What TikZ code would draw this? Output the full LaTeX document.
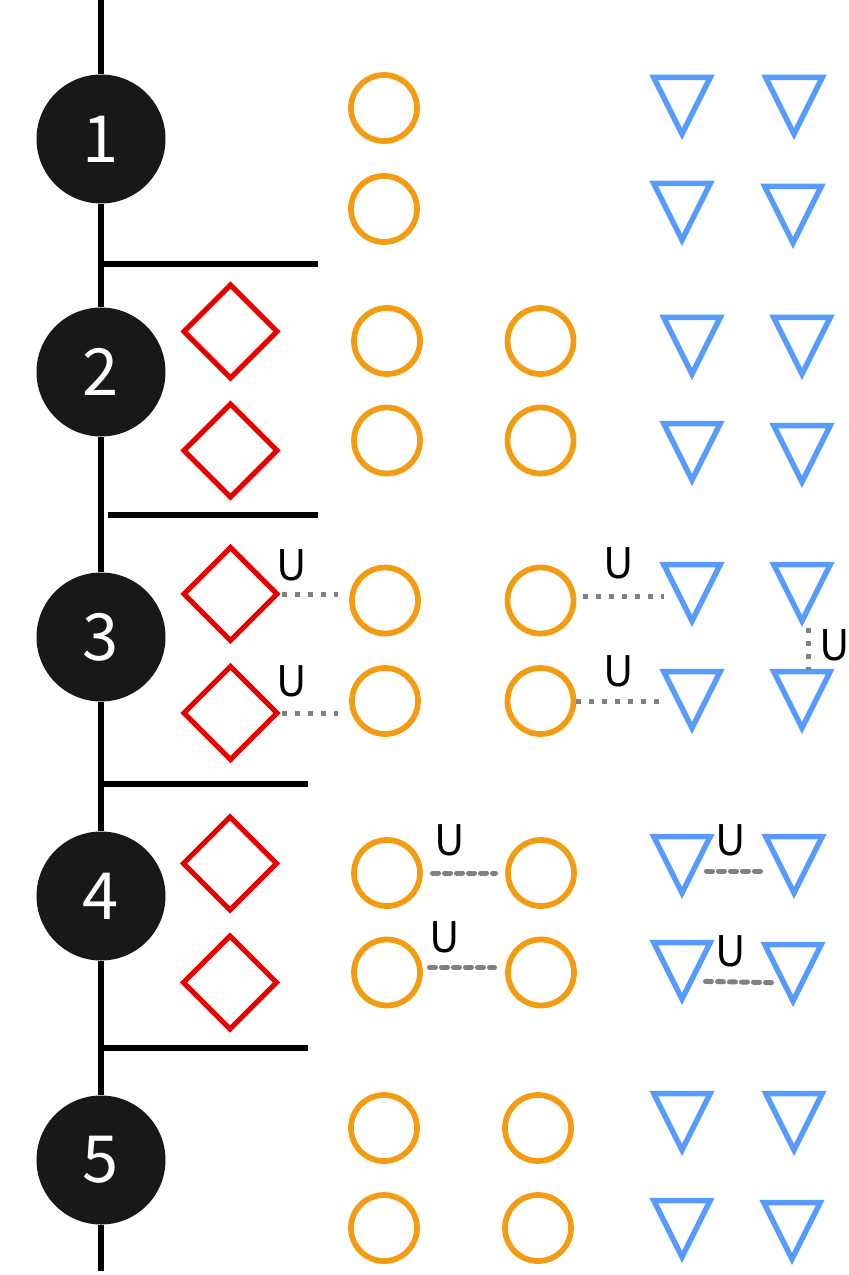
\documentclass[tikz,border=0pt]{standalone}
\usepackage{fontspec}
\usetikzlibrary{shapes.geometric}
\newfontfamily\cjkfont{Noto Sans CJK SC}

\definecolor{numblack}{RGB}{24,24,24}
\definecolor{ringorange}{RGB}{243,156,18}
\definecolor{triblue}{RGB}{88,155,255}
\definecolor{gemred}{RGB}{232,0,0}
\definecolor{linkgray}{RGB}{128,128,128}

\tikzstyle{num} = [circle, fill=numblack, text=white, minimum size=25.8mm, inner sep=0, font=\cjkfont\fontsize{37}{37}\selectfont]
\tikzstyle{ring} = [circle, draw=ringorange, line width=1.15mm, minimum size=13.2mm, inner sep=0, outer sep=0]
\tikzstyle{gem} = [diamond, draw=gemred, line width=1mm, minimum width=18.6mm, minimum height=18.6mm, inner sep=0, outer sep=0]
\tikzstyle{tri} = [isosceles triangle, isosceles triangle stretches, shape border rotate=270, draw=triblue, line width=1.1mm, minimum width=11.3mm, minimum height=11.3mm, inner sep=0, outer sep=0, anchor=apex]
\tikzstyle{ulabel} = [inner sep=0, font=\cjkfont\fontsize{24}{24}\selectfont]
\tikzstyle{line} = [draw, line width=1.2mm]
\tikzstyle{dotline} = [draw=linkgray, line width=1mm, dash pattern=on 1mm off 1.6mm]
\tikzstyle{dashline} = [draw=linkgray, line width=1mm, line cap=round, dash pattern=on 1.2mm off 1.2mm]

\begin{document}
\begin{tikzpicture}[x=0.2mm, y=-0.2mm]
    \useasboundingbox (0,0) rectangle (848,1275);

    % steps
    \node[num] (n1) at (101,139) {1};
    \node[num] (n2) at (101,372) {2};
    \node[num] (n3) at (101,637) {3};
    \node[num] (n4) at (101,896) {4};
    \node[num] (n5) at (101,1160) {5};
    \coordinate (top) at (101,0);
    \coordinate (bottom) at (101,1271);
    \draw[line] (top) -- (n1) -- (n2) -- (n3) -- (n4) -- (n5) -- (bottom);

    % separators
    \draw[line] (101,264) -- (318,264);
    \draw[line] (108,515) -- (318,515);
    \draw[line] (101,784) -- (308,784);
    \draw[line] (101,1048) -- (308,1048);

    % row 1
    \node[ring] (ring1a) at (384,108) {};
    \node[ring] (ring1b) at (384,209) {};
    \node[tri] (tri1a) at (682,134) {};
    \node[tri] (tri1b) at (682,240) {};
    \node[tri] (tri1c) at (794,134) {};
    \node[tri] (tri1d) at (793,243) {};

    % row 2
    \node[gem] (dia2a) at (230.5,331.5) {};
    \node[gem] (dia2b) at (230.5,450.5) {};
    \node[ring] (ring2a) at (387,341) {};
    \node[ring] (ring2b) at (387,440.5) {};
    \node[ring] (ring2c) at (540.5,341) {};
    \node[ring] (ring2d) at (540.5,440.5) {};
    \node[tri] (tri2a) at (692,374) {};
    \node[tri] (tri2b) at (692,480) {};
    \node[tri] (tri2c) at (802,374) {};
    \node[tri] (tri2d) at (802,482) {};

    % row 3
    \node[gem] (dia3a) at (230.5,594) {};
    \node[gem] (dia3b) at (230.5,713) {};
    \node[ring] (ring3a) at (385,600.5) {};
    \node[ring] (ring3b) at (385,701) {};
    \node[ring] (ring3c) at (540.5,600.5) {};
    \node[ring] (ring3d) at (540.5,701) {};
    \node[tri] (tri3a) at (692,621) {};
    \node[tri] (tri3b) at (692,728) {};
    \node[tri] (tri3c) at (802,621) {};
    \node[tri] (tri3d) at (802,728) {};

    % row 4
    \node[gem] (dia4a) at (230,863.5) {};
    \node[gem] (dia4b) at (230,982.5) {};
    \node[ring] (ring4a) at (387,873) {};
    \node[ring] (ring4b) at (387,972.5) {};
    \node[ring] (ring4c) at (541,873) {};
    \node[ring] (ring4d) at (541,972.5) {};
    \node[tri] (tri4a) at (682,893) {};
    \node[tri] (tri4b) at (682,999) {};
    \node[tri] (tri4c) at (794,893) {};
    \node[tri] (tri4d) at (793,1001) {};

    % row 5
    \node[ring] (ring5a) at (384,1128) {};
    \node[ring] (ring5b) at (384,1228) {};
    \node[ring] (ring5c) at (538,1128) {};
    \node[ring] (ring5d) at (538,1228) {};
    \node[tri] (tri5a) at (682,1150) {};
    \node[tri] (tri5b) at (682,1257) {};
    \node[tri] (tri5c) at (794,1150) {};
    \node[tri] (tri5d) at (792,1259) {};

    % dotted links
    \draw[dotline, shorten <=1mm, shorten >=2.8mm] (dia3a.east) -- (dia3a.east -| ring3a.west);
    \draw[dotline, shorten <=1mm, shorten >=2.8mm] (dia3b.east) -- (dia3b.east -| ring3b.west);
    \draw[dotline, shorten <=1.9mm, shorten >=5.6mm] ([yshift=0.9mm]ring3c.east) -- ([yshift=0.9mm]ring3c.east -| tri3a.apex);
    \draw[dotline, shorten <=0.5mm, shorten >=5.8mm] (ring3d.east) -- (ring3d.east -| tri3b.apex);
    \draw[dotline, shorten <=1.4mm, shorten >=11.6mm] ([xshift=1.2mm]tri3c.apex) -- ([xshift=1.2mm]tri3d.apex);
    \node[ulabel] (u3a) at (292,565) {U};
    \node[ulabel] (u3b) at (292,681) {U};
    \node[ulabel] (u3c) at (619,563) {U};
    \node[ulabel] (u3d) at (619,671) {U};
    \node[ulabel] (u3e) at (835,645) {U};

    % dashed links
    \draw[dashline, shorten <=2.5mm, shorten >=2.5mm] (ring4a.east) -- (ring4c.west);
    \draw[dashline, shorten <=1.9mm, shorten >=2.7mm] ([yshift=1mm]ring4b.east) -- ([yshift=1mm]ring4d.west);
    \draw[dashline, shorten <=4.9mm, shorten >=6.3mm] ([yshift=4.4mm]tri4a.apex) -- ([yshift=4.4mm]tri4c.apex);
    \draw[dashline, shorten <=4.7mm, shorten >=3.7mm] ([yshift=3.6mm]tri4b.apex) -- ([yshift=3.6mm]tri4d.apex);
    \node[ulabel] (u4a) at (450,840) {U};
    \node[ulabel] (u4b) at (445,937) {U};
    \node[ulabel] (u4c) at (731,840) {U};
    \node[ulabel] (u4d) at (731,951) {U};
\end{tikzpicture}
\end{document}
